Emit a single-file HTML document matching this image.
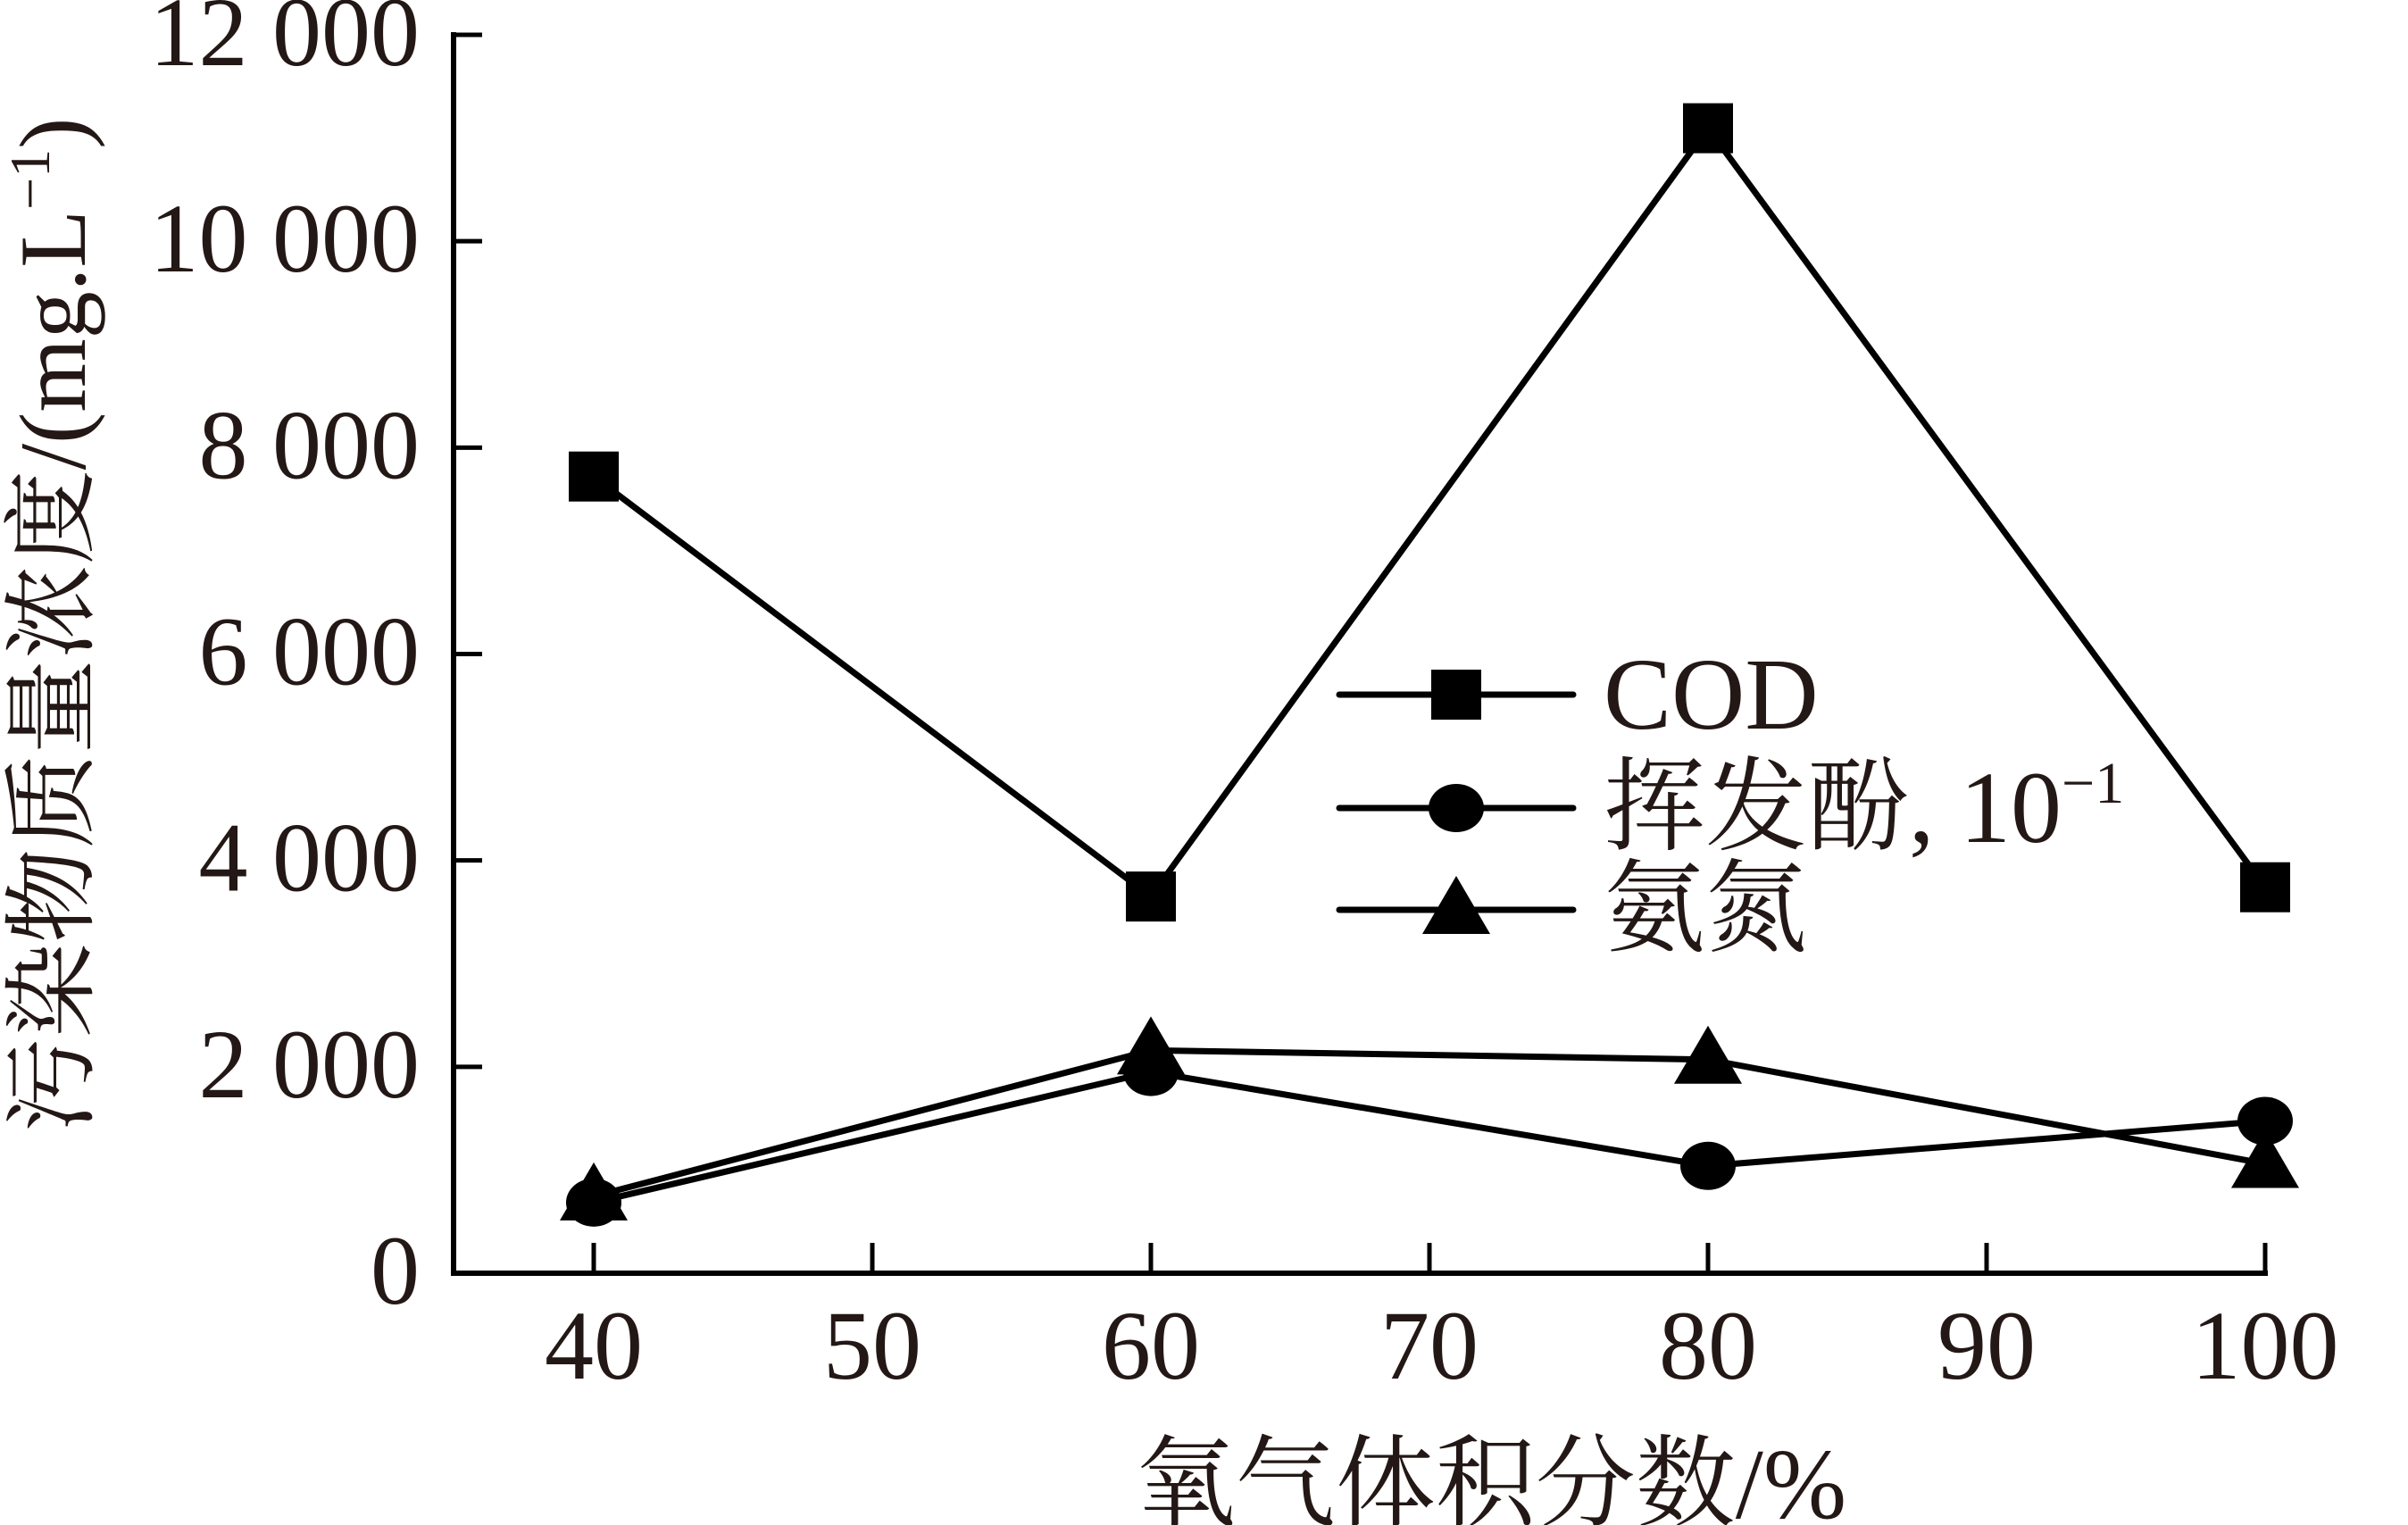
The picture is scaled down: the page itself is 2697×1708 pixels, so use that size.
<!DOCTYPE html>
<html><head><meta charset="utf-8"><style>
html,body{margin:0;padding:0;background:#fff;}
svg{display:block;}
text{font-family:"Liberation Serif","Noto Serif CJK SC",serif;fill:#231815;}
</style></head><body>
<svg id="chart" width="2697" height="1708" viewBox="0 0 2697 1708" xmlns="http://www.w3.org/2000/svg">
<g id="axes"></g>
<g id="series"></g>
<g id="legend"></g>
<text x="1670" y="1700" font-size="112" text-anchor="middle">氧气体积分数/%</text>
<text transform="translate(95,700) rotate(-90)" font-size="106" text-anchor="middle">污染物质量浓度/(mg.L<tspan font-size="64" dy="-40">−1</tspan><tspan dy="40">)</tspan></text>
</svg>
<script>
const categories = [40, 60, 80, 100];
const codValues = [7720, 3650, 11095, 3740];
const phenolValues = [685, 1950, 1040, 1475];
const ammoniaValues = [745, 2160, 2070, 1060];
const xTicks = [40, 50, 60, 70, 80, 90, 100];
const yTicks = [0, 2000, 4000, 6000, 8000, 10000, 12000];
const yTickLabels = ["0", "2 000", "4 000", "6 000", "8 000", "10 000", "12 000"];

const NS = "http://www.w3.org/2000/svg";
const X0 = 508, Y0 = 1426;
function xs(v){ return 665 + (v - 40) * 31.2; }
function ys(v){ return Y0 - v * (1426 - 39) / 12000; }
function mk(tag, attrs, parent){
  const e = document.createElementNS(NS, tag);
  for (const k in attrs) e.setAttribute(k, attrs[k]);
  parent.appendChild(e);
  return e;
}
const axes = document.getElementById('axes');
const series = document.getElementById('series');
const legend = document.getElementById('legend');

let l = mk('line', {x1:X0, y1:Y0, x2:xs(100)+3, y2:Y0, stroke:'#000', 'stroke-width':6}, axes);


l = mk('line', {x1:X0, y1:Y0+3, x2:X0, y2:ys(12000)-3, stroke:'#000', 'stroke-width':6}, axes);



xTicks.forEach(function(v){
  const t = mk('line', {x1:xs(v), y1:Y0, x2:xs(v), y2:Y0-34, stroke:'#000', 'stroke-width':5}, axes);
  
  
  const tx = mk('text', {x:xs(v), y:1544, 'font-size':110, 'text-anchor':'middle'}, axes);
  tx.textContent = String(v);
  
  
});
yTicks.forEach(function(v, i){
  const t = mk('line', {x1:X0, y1:ys(v), x2:X0+32, y2:ys(v), stroke:'#000', 'stroke-width':5}, axes);
  
  
  const tx = mk('text', {x:470, y:ys(v)+34, 'font-size':110, 'text-anchor':'end'}, axes);
  tx.textContent = yTickLabels[i];
  
  
});

function marker(kind, x, y, parent){
  let m;
  if (kind === 'square') m = mk('rect', {x:x-28, y:y-28, width:56, height:56, fill:'#000'}, parent);
  else if (kind === 'circle') m = mk('ellipse', {cx:x, cy:y, rx:31, ry:27, fill:'#000'}, parent);
  else m = mk('polygon', {points:(x)+','+(y-38)+' '+(x-38)+','+(y+27)+' '+(x+38)+','+(y+27), fill:'#000'}, parent);
  return m;
}
function drawSeries(name, vals, kind){
  const pts = categories.map(function(c, i){ return xs(c)+','+ys(vals[i]); }).join(' ');
  const p = mk('polyline', {points:pts, fill:'none', stroke:'#000', 'stroke-width':7}, series);
  
  
  categories.forEach(function(c, i){
    const m = marker(kind, xs(c), ys(vals[i]), series);
    
    
  });
}
drawSeries('phenol', phenolValues, 'circle');
drawSeries('ammonia', ammoniaValues, 'triangle');
drawSeries('cod', codValues, 'square');

const legendRows = [
  {y:778, kind:'square', name:'cod', label:'COD'},
  {y:905, kind:'circle', name:'phenol', label:'挥发酚, 10'},
  {y:1019, kind:'triangle', name:'ammonia', label:'氨氮'}
];
legendRows.forEach(function(r){
  const ln = mk('line', {x1:1500, y1:r.y, x2:1762, y2:r.y, stroke:'#000', 'stroke-width':7, 'stroke-linecap':'round'}, legend);
  
  
  const m = marker(r.kind, 1631, r.y, legend);
  
  
  const tx = mk('text', {x:1796, y:r.y+38, 'font-size':114}, legend);
  tx.textContent = r.label;
  if (r.name === 'phenol') {
    const sup = mk('tspan', {'font-size':66, dy:-44}, tx);
    sup.textContent = '−1';
  }
  
  
});
</script>
</body></html>
